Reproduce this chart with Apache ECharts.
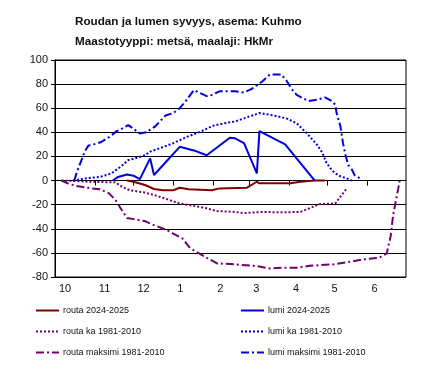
<!DOCTYPE html>
<html>
<head>
<meta charset="utf-8">
<script src="https://cdn.jsdelivr.net/npm/echarts@6/dist/echarts.min.js"></script>
<style>
html,body{margin:0;padding:0;background:#fff}
#chart{width:430px;height:376px}
</style>
</head>
<body>
<div id="chart"></div>
<script>
// x = days counted from 1 October, y = depth in cm
var monthStarts = [0, 31, 61, 92, 123, 151, 182, 212, 243];
var monthLabels = ['10', '11', '12', '1', '2', '3', '4', '5', '6'];

var routa2425 = [[56,0],[61,-1],[70,-3.7],[77,-7],[84,-8],[92,-8],[97,-6],[104,-7.3],[122,-8],[128,-6.5],
    [149,-6],[157,-1],[159,-2.3],[183,-2.3],[191,-1],[202,0],[210,0]];
var lumi2425 = [[45,0],[49,3],[56,5],[61,4],[66,1.2],[74,18.4],[77,4.6],[97,28],[108,25],[118,21],
    [136,35.5],[140,35],[147,31],[157,6],[159,41],[179,30],[202,0]];
var routaKa = [[5,0],[16,-0.4],[27,-1],[47,-1.5],[52,-5],[58,-8],[70,-10],[77,-12],[87,-15.4],[97,-19],
    [108,-21],[118,-23],[126,-25.3],[140,-26],[147,-27],[162,-26],[175,-26.4],[191,-26],[198,-23],
    [206,-19.5],[218,-19],[222,-13.4],[227,-6.5]];
var lumiKa = [[14,0],[25,2],[35,3],[44,6],[51,11.5],[57,17],[64,19],[70,21],[74,24],[82,27],[92,31],
    [102,36],[113,40.5],[123,45.5],[134,48],[140,49],[147,51.6],[159,56],[170,54],[180,51.6],[188,47.5],
    [196,39],[204,29.5],[208,23],[211,15],[215,9],[218,6],[222,3.5],[227,1.8],[231,0]];
var routaMax = [[5,0],[9,-2],[16,-4.3],[25,-6],[35,-7.3],[42,-10.6],[47,-16],[51,-23],[56,-31],[61,-32],
    [70,-33.6],[77,-37],[87,-41],[92,-44],[99,-48],[105,-56],[112,-60.4],[119,-64.6],[126,-68.7],
    [140,-69.5],[157,-71],[167,-72.9],[178,-72.3],[188,-72.3],[198,-70.7],[217,-69.5],[229,-67.4],
    [240,-65.4],[252,-64],[258,-60.4],[261,-46.6],[263,-28.6],[265,-17.6],[267,-6.5],[268,-0.4]];
var lumiMax = [[15,0],[17,7],[21,18],[23,24],[26,29],[30,30],[36,32],[42,36],[48,41],[52,43],[57,46],
    [61,43],[66,39],[71,40],[78,45],[86,54],[92,56],[97,60],[101,65],[108,75],[112,73],[118,70],
    [122,71],[128,74],[140,74],[147,73],[153,76],[161,82],[167,88],[176,88],[180,83],[184,76],
    [188,71],[197,66],[204,67],[210,69],[215,66],[218,63],[219,56],[222,45],[223,38],[224,31],
    [226,21],[228,13],[231,9],[233,4.5],[237,2],[238,0]];

var red = '#800000', blue = '#0000dd', purple = '#700070';
var dotted = [2, 2], dashDot = [8, 3, 2, 3];

function mk(name, data, color, type) {
    return {
        name: name,
        type: 'line',
        data: data,
        symbol: 'none',
        animation: false,
        lineStyle: { color: color, width: 2, type: type },
        itemStyle: { color: color }
    };
}

function legendCol(left, names) {
    return {
        left: left, top: 306, orient: 'vertical', padding: 0,
        itemWidth: 23, itemHeight: 10, itemGap: 12,
        selectedMode: false,
        itemStyle: { opacity: 0 },
        textStyle: { fontSize: 9, color: '#111', padding: [0, 0, 0, -1] },
        data: names
    };
}

var chart = echarts.init(document.getElementById('chart'));
chart.setOption({
    backgroundColor: '#fff',
    textStyle: { fontFamily: 'Arial, "Liberation Sans", sans-serif' },
    title: {
        text: 'Roudan ja lumen syvyys, asema: Kuhmo\nMaastotyyppi: metsä, maalaji: HkMr',
        left: 70,
        top: 7,
        textStyle: { fontSize: 11.7, fontWeight: 'bold', color: '#111', lineHeight: 20 }
    },
    legend: [
        legendCol(35, ['routa 2024-2025', 'routa ka 1981-2010', 'routa maksimi 1981-2010']),
        legendCol(240, ['lumi 2024-2025', 'lumi ka 1981-2010', 'lumi maksimi 1981-2010'])
    ],
    grid: {
        left: 55, right: 24, top: 60, bottom: 99,
        show: true, borderColor: '#000', borderWidth: 1, backgroundColor: '#fff'
    },
    xAxis: [{
        type: 'value', min: 0, max: 273, position: 'bottom',
        axisLine: { onZero: true, lineStyle: { color: '#000', width: 1 } },
        axisTick: { show: true, length: 5, customValues: monthStarts.slice(1), lineStyle: { color: '#000' } },
        axisLabel: { show: false },
        splitLine: { show: false }
    }, {
        type: 'value', min: 0, max: 273, position: 'bottom',
        axisLine: { show: false, onZero: false },
        axisTick: { show: false },
        splitLine: { show: false },
        axisLabel: {
            customValues: monthStarts,
            align: 'left',
            margin: 6,
            padding: [0, 0, 0, 4],
            fontSize: 11,
            color: '#111',
            formatter: function (v) {
                var i = monthStarts.indexOf(v);
                return i >= 0 ? monthLabels[i] : '';
            }
        }
    }],
    yAxis: {
        type: 'value', min: -80, max: 100, interval: 20,
        axisLine: { show: true, lineStyle: { color: '#000' } },
        axisTick: { show: true, length: 4, lineStyle: { color: '#000' } },
        axisLabel: { fontSize: 11, color: '#111', margin: 7 },
        splitLine: { lineStyle: { color: '#000', width: 1 } }
    },
    series: [
        mk('routa 2024-2025', routa2425, red, 'solid'),
        mk('lumi 2024-2025', lumi2425, blue, 'solid'),
        mk('routa ka 1981-2010', routaKa, purple, dotted),
        mk('lumi ka 1981-2010', lumiKa, blue, dotted),
        mk('routa maksimi 1981-2010', routaMax, purple, dashDot),
        mk('lumi maksimi 1981-2010', lumiMax, blue, dashDot)
    ]
});
</script>
</body>
</html>
